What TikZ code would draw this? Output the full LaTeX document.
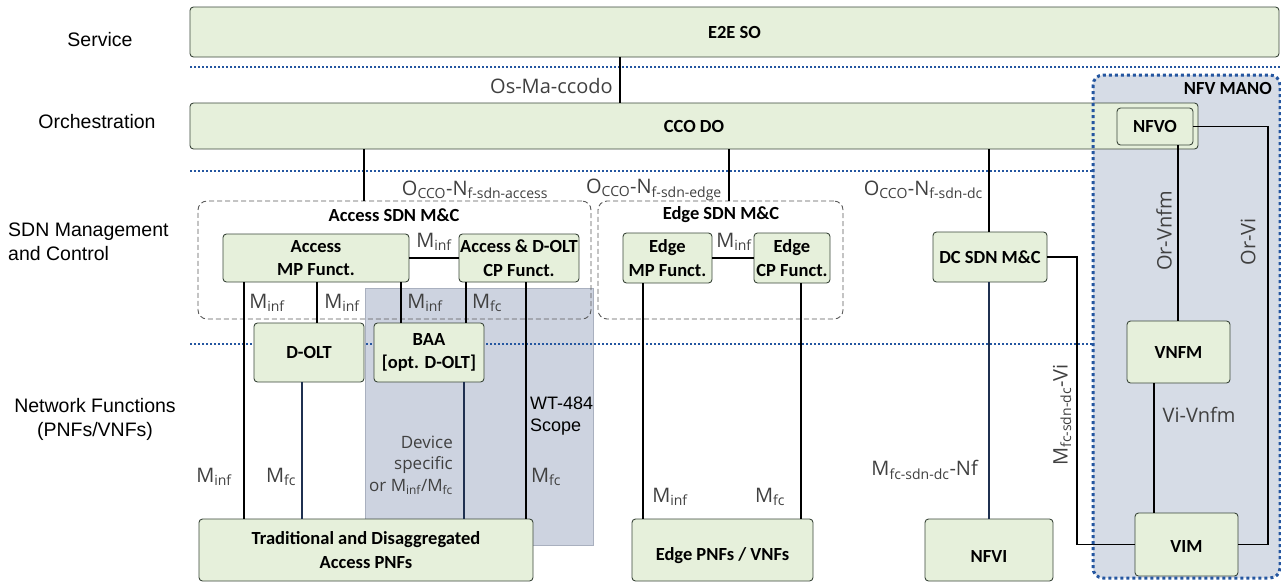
\documentclass[tikz,border=0pt]{standalone}
\usepackage{fontspec}
\setmainfont{Carlito}
\newfontfamily\lblfont{Open Sans}
\newfontfamily\arialfont{Liberation Sans}
\usetikzlibrary{calc}
\definecolor{boxgreen}{HTML}{E6F0DB}
\definecolor{boxline}{HTML}{3A463A}
\definecolor{dotblue}{HTML}{2456A0}
\definecolor{manofill}{HTML}{D6DCE6}
\definecolor{scopefill}{HTML}{CDD3E0}
\definecolor{scopeline}{HTML}{A9B0BF}
\definecolor{lblgray}{HTML}{404040}
\definecolor{navy}{HTML}{1F3050}
\newcommand{\sbx}[1]{\textsubscript{#1}}
\newcommand{\dropby}[2]{\raisebox{-#1}[\height][\depth]{#2}}
\newcommand{\mkbox}[6]{\node[box, minimum width={(#4-#2)*1pt}, minimum height={(#5-#3)*1pt}] (#1) at ({(#2+#4)/2},{(#3+#5)/2}) {#6};}
\tikzset{
  box/.style={draw=boxline, fill=boxgreen, rounded corners=3.5pt, line width=0.9pt, inner sep=0pt, outer sep=0pt, align=center, font=\fontsize{18.5}{23.5}\selectfont\bfseries},
  grp/.style={draw=black!65, dash pattern=on 5pt off 3pt, rounded corners=9pt, line width=0.9pt, inner sep=0pt, outer sep=0pt},
  grptitle/.style={font=\fontsize{18.5}{23}\selectfont\bfseries, inner sep=0pt},
  sepline/.style={draw=dotblue, line width=2pt, dash pattern=on 2pt off 2pt},
  conn/.style={draw=black, line width=1.2pt},
  connb/.style={draw=navy, line width=1.1pt},
  lbl/.style={font=\lblfont\fontsize{20}{22}\selectfont, text=lblgray, inner sep=0pt},
  lbls/.style={font=\lblfont\fontsize{17}{21.5}\selectfont, text=lblgray, inner sep=0pt},
  side/.style={font=\arialfont\fontsize{19.5}{24}\selectfont, inner sep=0pt},
  scopetxt/.style={font=\arialfont\fontsize{18}{22}\selectfont, inner sep=0pt}
}
\begin{document}
\begin{tikzpicture}[x=1pt,y=-1pt]
\useasboundingbox (0,0) rectangle (1281,582);
% backgrounds
\node[fill=manofill, rounded corners=10pt, minimum width=187pt, minimum height=503pt, inner sep=0pt, outer sep=0pt] (mano) at (1186.5,326.5) {};
\node[fill=scopefill, draw=scopeline, line width=1pt, minimum width=228pt, minimum height=257pt, inner sep=0pt, outer sep=0pt] (scope) at (479,416.5) {};
% separators
\coordinate (s1a) at (190,67); \coordinate (s1b) at (1281,67);
\coordinate (s2a) at (190,171); \coordinate (s3a) at (190,344);
\draw[sepline] (s1a) -- (s1b);
\draw[sepline] (s2a) -- (s2a -| mano.west);
\draw[sepline] (s3a) -- (s3a -| mano.west);
% side labels
\node[side] (lservice) at (100,40) {Service};
\node[side] (lorch) at (97,122) {Orchestration};
\node[side, anchor=west, align=left] (lsdn) at (8,242) {SDN Management\\and Control};
\node[side, align=center] (lnf) at (95,419) {Network Functions\\(PNFs/VNFs)};
% groups
\node[grp, minimum width=393pt, minimum height=118pt] (accgrp) at (394.5,260) {};
\node[grptitle] (accgrpT) at (394,215) {Access SDN M\&C};
\node[grp, minimum width=245pt, minimum height=118pt] (edgegrp) at (720.5,260) {};
\node[grptitle] (edgegrpT) at (721,215) {Edge SDN M\&C};
% boxes
\mkbox{e2e}{190}{7}{1279}{57}{E2E SO}
\mkbox{cco}{190}{103}{1198}{149}{CCO DO}
\mkbox{nfvo}{1117}{108}{1193}{145}{NFVO}
\mkbox{accmp}{223}{234}{409}{282}{Access\\MP Funct.}
\mkbox{acccp}{459}{234}{579}{282}{Access \& D-OLT\\CP Funct.}
\mkbox{edgemp}{623}{233}{712}{283}{Edge\\MP Funct.}
\mkbox{edgecp}{754}{233}{830}{283}{Edge\\CP Funct.}
\mkbox{dcsdn}{933}{232}{1047}{282}{DC SDN M\&C}
\mkbox{dolt}{254}{323}{364}{382}{D-OLT}
\mkbox{baa}{374}{323}{484}{382}{BAA\\{}[opt. D-OLT]}
\mkbox{vnfm}{1127}{321}{1230}{383}{VNFM}
\mkbox{trad}{199}{519}{533}{581}{Traditional and Disaggregated\\Access PNFs}
\mkbox{edgepnf}{632}{519}{813}{581}{\dropby{6pt}{Edge PNFs / VNFs}}
\mkbox{nfvi}{925}{519}{1053}{581}{\dropby{6pt}{NFVI}}
\mkbox{vim}{1135}{513}{1238}{576}{\dropby{2pt}{VIM}}
% column coordinates
\coordinate (x620) at (620,0);
\coordinate (x364) at (364,0);
\coordinate (x729) at (729,0);
\coordinate (x989) at (989,0);
\coordinate (x244) at (244,0);
\coordinate (x317) at (317,0);
\coordinate (x401) at (401,0);
\coordinate (x466) at (466,0);
\coordinate (x526) at (526,0);
\coordinate (x302) at (302,0);
\coordinate (x464) at (464,0);
\coordinate (x643) at (643,0);
\coordinate (x801) at (801,0);
\coordinate (x1178) at (1178,0);
\coordinate (x1154) at (1154,0);
\coordinate (dcturn) at (1077,400);
\coordinate (orturn) at (1268,400);
% connectors
\draw[conn] (e2e.south -| x620) -- (cco.north -| x620);
\draw[conn] (cco.south -| x364) -- (accgrp.north -| x364);
\draw[conn] (cco.south -| x729) -- (edgegrp.north -| x729);
\draw[conn] (cco.south -| x989) -- (dcsdn.north -| x989);
\draw[conn] (accmp.east) -- (acccp.west);
\draw[conn] (edgemp.east) -- (edgecp.west);
\draw[conn] (accmp.south -| x244) -- (trad.north -| x244);
\draw[conn] (accmp.south -| x317) -- (dolt.north -| x317);
\draw[conn] (accmp.south -| x401) -- (baa.north -| x401);
\draw[conn] (acccp.south -| x466) -- (baa.north -| x466);
\draw[conn] (acccp.south -| x526) -- (trad.north -| x526);
\draw[connb] (dolt.south -| x302) -- (trad.north -| x302);
\draw[connb] (baa.south -| x464) -- (trad.north -| x464);
\draw[conn] (edgemp.south -| x643) -- (edgepnf.north -| x643);
\draw[conn] (edgecp.south -| x801) -- (edgepnf.north -| x801);
\draw[connb] (dcsdn.south -| x989) -- (nfvi.north -| x989);
\draw[conn] (dcsdn.east) -| (dcturn) |- (vim.west);
\draw[conn] (nfvo.east) -| (orturn) |- (vim.east);
\draw[conn] (nfvo.south -| x1178) -- (vnfm.north -| x1178);
\draw[conn] (vnfm.south -| x1154) -- (vim.north -| x1154);
% MANO border
\draw[draw=dotblue, line width=3pt, dash pattern=on 3pt off 3pt, rounded corners=10pt] (mano.north west) rectangle (mano.south east);
\node[grptitle, anchor=east] (manoT) at (1272,88) {NFV MANO};
% labels
\node[lbl, anchor=east] (tosma) at (613,86) {Os-Ma-ccodo};
\node[lbl] (tacc) at (475,190) {O\sbx{CCO}-N\sbx{f-sdn-access}};
\node[lbl, anchor=east] (tedge) at (722,190) {O\sbx{CCO}-N\sbx{f-sdn-edge}};
\node[lbl, anchor=east] (tdc) at (983,190) {O\sbx{CCO}-N\sbx{f-sdn-dc}};
\node[lbl] (tm1) at (434,242) {M\sbx{inf}};
\node[lbl] (tm2) at (734,242) {M\sbx{inf}};
\node[lbl] (tm3) at (267,303) {M\sbx{inf}};
\node[lbl] (tm4) at (342,303) {M\sbx{inf}};
\node[lbl] (tm5) at (425,303) {M\sbx{inf}};
\node[lbl] (tm6) at (487,303) {M\sbx{fc}};
\node[lbl] (tm7) at (214,477) {M\sbx{inf}};
\node[lbl] (tm8) at (281,477) {M\sbx{fc}};
\node[lbl] (tm9) at (546,477) {M\sbx{fc}};
\node[lbls, anchor=east, align=right] (tdev) at (453,465) {Device\\specific\\or M\sbx{inf}/M\sbx{fc}};
\node[scopetxt, anchor=west, align=left] (twt) at (530,416) {WT-484\\Scope};
\node[lbl] (tm10) at (670,497) {M\sbx{inf}};
\node[lbl] (tm11) at (770,497) {M\sbx{fc}};
\node[lbl, anchor=east] (tnf) at (978,470) {M\sbx{fc-sdn-dc}-Nf};
\node[lbl, rotate=90] (tvi) at (1062,415) {M\sbx{fc-sdn-dc}-Vi};
\node[lbl, rotate=90] (torv) at (1164,231) {Or-Vnfm};
\node[lbl, rotate=90] (tori) at (1248,242) {Or-Vi};
\node[lbl] (tvv) at (1199,415) {Vi-Vnfm};
\end{tikzpicture}
\end{document}
